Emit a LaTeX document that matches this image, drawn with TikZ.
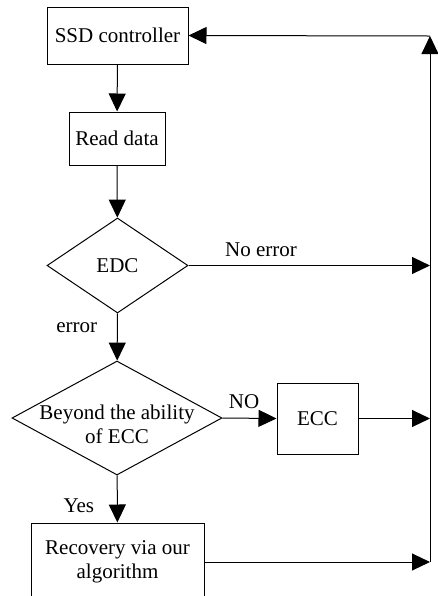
\documentclass[tikz,border=0pt]{standalone}
\usepackage{fontspec}
\setmainfont{Liberation Serif}
\usetikzlibrary{arrows.meta,shapes.geometric}

\begin{document}
\begin{tikzpicture}[x=0.5pt,y=-0.5pt,
        every node/.style={font=\fontsize{10.5}{12}\selectfont},
        box/.style={draw, line width=0.5pt, inner sep=0pt, align=center},
        decision/.style={draw, diamond, line width=0.5pt, inner sep=0pt},
        flow/.style={line width=0.5pt, -{Triangle[length=9pt,width=8.5pt]}}]
        \useasboundingbox (0,0) rectangle (438,596);

        % Process boxes
        \node[box, minimum width=70.5pt, minimum height=28.5pt] (ssd) at (117.5,35.5) {SSD controller};
        \node[box, minimum width=48pt, minimum height=26.5pt] (read) at (117,138.5) {Read data};
        \node[box, minimum width=40.5pt, minimum height=35.5pt] (ecc) at (317.5,418.5) {ECC};
        \node[box, minimum width=86.5pt, minimum height=39pt] (recover) at (117.5,562) {Recovery via our\\algorithm};

        % Decisions
        \node[decision, minimum width=70.5pt, minimum height=47.5pt] (edc) at (117.5,265.5) {EDC};
        \node[decision, minimum width=105pt, minimum height=57pt] (ability) at (117,418) {};
        \node[align=center, inner sep=0pt] (abilitytext) at (117,424) {Beyond the ability\\of ECC};

        % Return rail on the right
        \coordinate (railtop) at (430,36);
        \coordinate (raildown) at (430,562);
        \coordinate (railedc) at (430,265.5);
        \coordinate (railecc) at (430,418.5);

        % Main flow
        \draw[flow] (ssd) -- (read);
        \draw[flow] (read) -- (edc);
        \draw[flow] (edc) -- (ability) node[pos=0.3, left=6.5pt] (errlabel) {error};
        \draw[flow] (ability) -- (recover) node[pos=0.65, left=8pt] (yeslabel) {Yes};
        \draw[flow] (ability.east) -- (ecc.west) node[pos=0.4, above=1pt] (nolabel) {NO};

        % Back to the controller
        \draw[flow] (edc.east) -- (railedc) node[pos=0.3, above=1pt] (okl) {No error};
        \draw[flow] (ecc.east) -- (railecc);
        \draw[flow] (recover.east) -- (raildown);
        \draw[flow] (raildown) -- (railtop);
        \draw[flow] (railtop) -- (ssd.east);
    \end{tikzpicture}
\end{document}
